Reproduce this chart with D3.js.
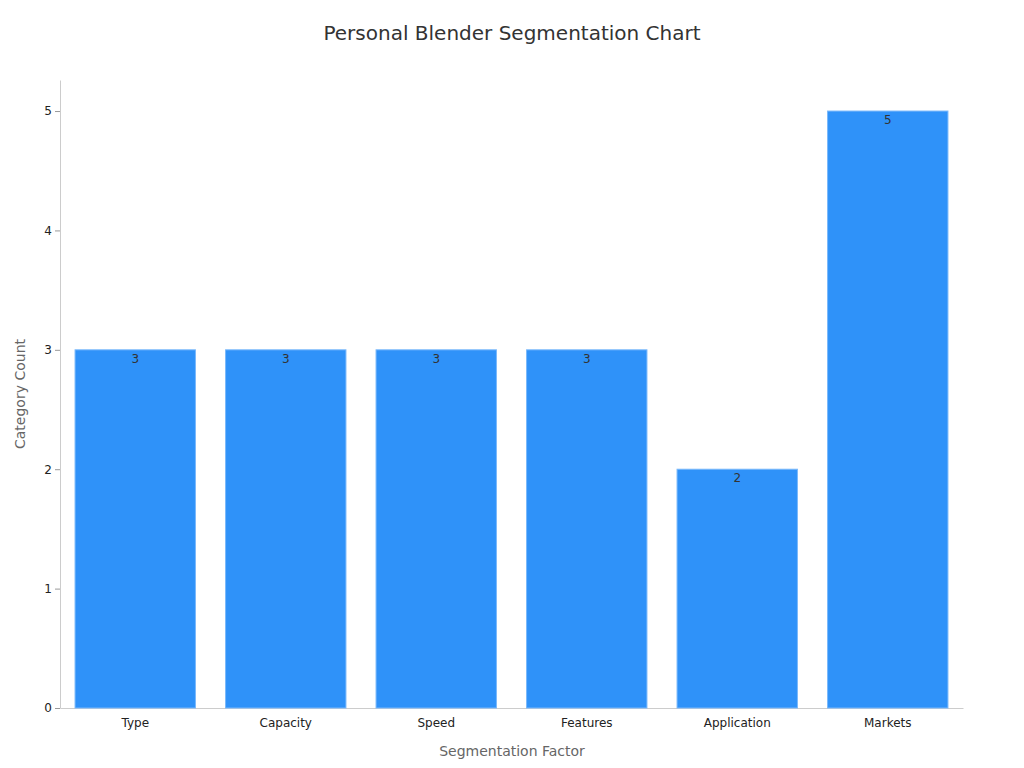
<!DOCTYPE html>
<html><head><meta charset="utf-8">
<script src="https://cdn.jsdelivr.net/npm/d3@7"></script>
<style>body{margin:0;background:#fff;font-family:"DejaVu Sans",sans-serif}</style>
</head><body><svg id="c" width="1024" height="768"></svg>
<script>
const categories=["Type","Capacity","Speed","Features","Application","Markets"];
const values=[3,3,3,3,2,5];
const yTicks=[0,1,2,3,4,5];
const svg=d3.select("#c");
const m={l:60,r:963,t:80,b:708};
const x=d3.scaleBand().domain(categories).range([m.l,m.r]).paddingInner(0.2).paddingOuter(0.1);
const y=d3.scaleLinear().domain([0,5.26]).range([m.b,m.t]);
svg.append("text").attr("x",512).attr("y",40).attr("text-anchor","middle").attr("font-size",20).attr("fill","#333").text("Personal Blender Segmentation Chart");
const ya=svg.append("g").attr("transform",`translate(${m.l},0)`).call(d3.axisLeft(y).tickValues(yTicks).tickFormat(d3.format("d")).tickSize(5).tickSizeOuter(0));
ya.select(".domain").attr("stroke","#ccc");ya.selectAll(".tick line").attr("stroke","#999");
ya.selectAll("text").attr("font-size",12).attr("fill","#222").attr("font-family","DejaVu Sans");
const xa=svg.append("g").attr("transform",`translate(0,${m.b})`).call(d3.axisBottom(x).tickSize(0).tickSizeOuter(0).tickPadding(10));
xa.select(".domain").attr("stroke","#ccc");
xa.selectAll("text").attr("font-size",12).attr("fill","#222").attr("font-family","DejaVu Sans");
svg.selectAll("rect.bar").data(values).join("rect").attr("class","bar")
 .attr("x",(d,i)=>x(categories[i])).attr("width",x.bandwidth())
 .attr("y",d=>y(d)).attr("height",d=>y(0)-y(d))
 .attr("fill","#2f92f9").attr("stroke","#7ab8fb").attr("stroke-width",1);
svg.selectAll("text.lbl").data(values).join("text").attr("class","lbl")
 .attr("x",(d,i)=>x(categories[i])+x.bandwidth()/2).attr("y",d=>y(d)+13)
 .attr("text-anchor","middle").attr("font-size",12).attr("fill","#333").text(d=>d);
svg.append("text").attr("x",512).attr("y",756).attr("text-anchor","middle").attr("font-size",14).attr("fill","#666").text("Segmentation Factor");
svg.append("text").attr("transform","translate(25,394) rotate(-90)").attr("text-anchor","middle").attr("font-size",14).attr("fill","#666").text("Category Count");
</script></body></html>
